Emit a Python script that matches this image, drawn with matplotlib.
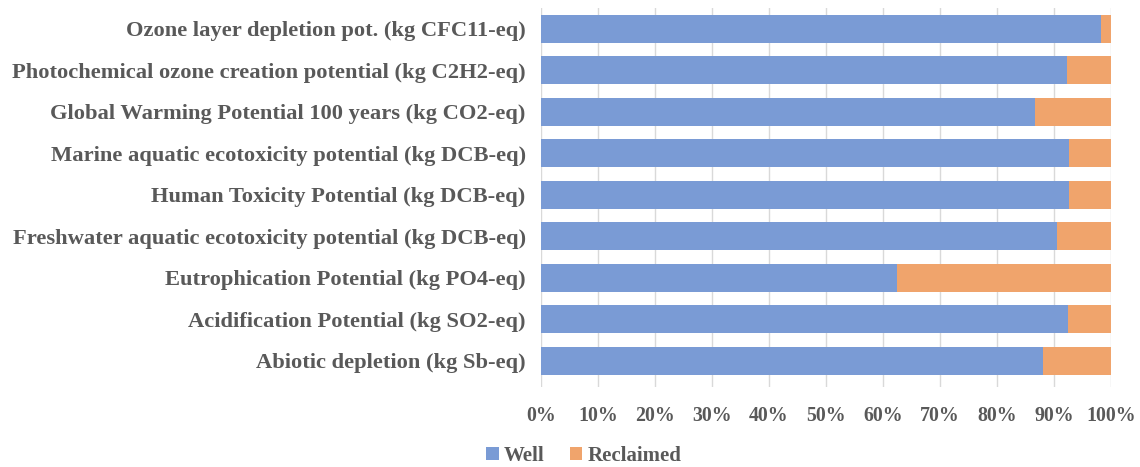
import matplotlib
matplotlib.use("Agg")
import matplotlib.pyplot as plt
from matplotlib.ticker import FuncFormatter, MultipleLocator
import numpy as np

categories = [
    "Abiotic depletion (kg Sb-eq)",
    "Acidification Potential (kg SO2-eq)",
    "Eutrophication Potential (kg PO4-eq)",
    "Freshwater aquatic ecotoxicity potential (kg DCB-eq)",
    "Human Toxicity Potential (kg DCB-eq)",
    "Marine aquatic ecotoxicity potential (kg DCB-eq)",
    "Global Warming Potential 100 years (kg CO2-eq)",
    "Photochemical ozone creation potential (kg C2H2-eq)",
    "Ozone layer depletion pot. (kg CFC11-eq)",
]
well = [88.1, 92.4, 62.4, 90.5, 92.6, 92.6, 86.7, 92.2, 98.2]
reclaimed = [100 - w for w in well]

plt.rcParams['font.family'] = ['Liberation Serif', 'DejaVu Serif']
plt.rcParams['font.weight'] = 'bold'

text_color = '#595959'
blue = '#7A9BD5'
orange = '#F0A46C'

fig = plt.figure(figsize=(11.4, 4.67), dpi=100)
ax = fig.add_axes([541/1140, 1 - 387/467, 570/1140, 379/467])

y = np.arange(len(categories))
ax.barh(y, well, height=0.67, color=blue, label='Well', zorder=3)
ax.barh(y, reclaimed, left=well, height=0.67, color=orange, label='Reclaimed', zorder=3)

ax.set_xlim(0, 100)
ax.set_ylim(-0.63, 8.5)
ax.xaxis.set_major_locator(MultipleLocator(10))
ax.xaxis.set_major_formatter(FuncFormatter(lambda v, p: f"{int(round(v))}%"))
ax.grid(axis='x', color='#D9D9D9', linewidth=1.0, zorder=0)
for s in ax.spines.values():
    s.set_visible(False)
ax.set_yticks(y)
ax.set_yticklabels(categories)
ax.tick_params(axis='both', length=0, colors=text_color)
ax.tick_params(axis='y', pad=11, labelsize=16.2)
ax.tick_params(axis='x', pad=14, labelsize=14.3)
for t in ax.get_xticklabels() + ax.get_yticklabels():
    t.set_fontweight('bold')

handles, labels = ax.get_legend_handles_labels()
fig.legend(handles, labels, loc='center', bbox_to_anchor=(584/1140, 1 - 456/467),
           ncol=2, frameon=False, fontsize=15, handlelength=0.6, handleheight=0.6,
           handletextpad=0.25, columnspacing=1.2, labelcolor=text_color)

fig.savefig('out.png', dpi=100)
